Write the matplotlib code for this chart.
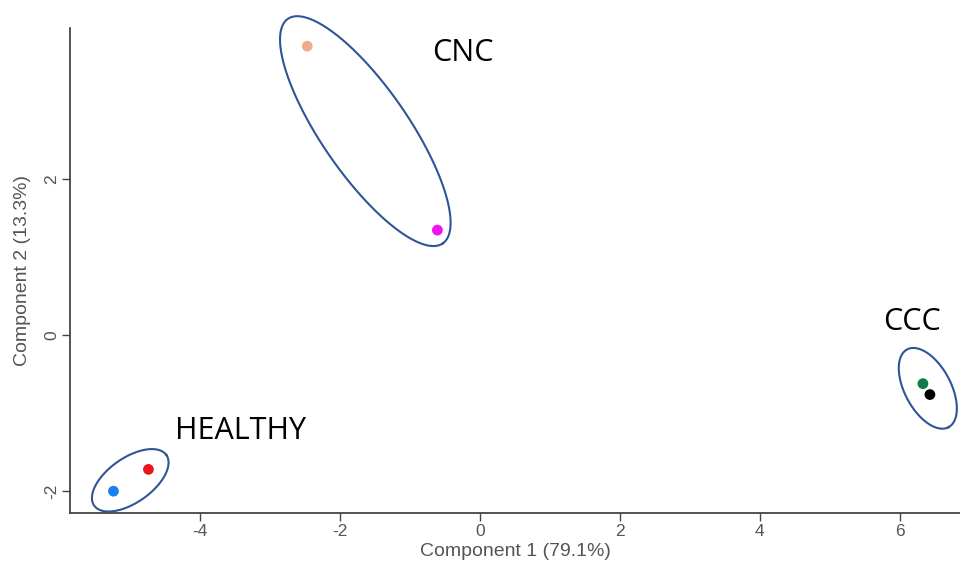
import numpy as np
import matplotlib
matplotlib.use("Agg")
import matplotlib.pyplot as plt

plt.rcParams["axes.unicode_minus"] = False

# PCA scores
comp1 = [-5.24, -4.74, -2.47, -0.61, 6.33, 6.43]
comp2 = [-2.00, -1.72, 3.71, 1.35, -0.62, -0.76]
colors = ["#1a7ff0", "#e8161b", "#f2aa88", "#f012f0", "#0f7a4a", "#000000"]

# group outlines: centre (data), semi axes (x units), angle (deg, visual)
groups = ["HEALTHY", "CNC", "CCC"]
ell_cx = [-5.0, -1.64, 6.40]
ell_cy = [-1.86, 2.62, -0.68]
ell_a = [0.63, 1.95, 0.63]
ell_b = [0.32, 0.62, 0.33]
ell_ang = [35, -55.4, -62]
label_x = [-4.36, -0.24, 6.17]
label_y = [-1.23, 3.62, 0.17]
label_ha = ["left", "center", "center"]

fig = plt.figure(figsize=(9.6, 5.65), dpi=100)
ax = fig.add_axes([0.073, 0.092, 0.927, 0.858])
ax.set_xlim(-5.86, 6.86)
ax.set_ylim(-2.28, 3.94)

# ratio of px per y unit to px per x unit, so outlines look like true ellipses
r = (78.0 / 70.0)
t = np.linspace(0, 2 * np.pi, 200)
for i in range(len(groups)):
    th = np.deg2rad(ell_ang[i])
    ex = ell_cx[i] + ell_a[i] * np.cos(t) * np.cos(th) - ell_b[i] * np.sin(t) * np.sin(th)
    ey = ell_cy[i] + (ell_a[i] * np.cos(t) * np.sin(th) + ell_b[i] * np.sin(t) * np.cos(th)) / r
    ax.plot(ex, ey, color="#2f5597", lw=1.5, clip_on=False, zorder=2)
    ax.text(label_x[i], label_y[i], groups[i], ha=label_ha[i], va="center",
            fontsize=22, family=["Open Sans", "DejaVu Sans"], color="black")

ax.scatter(comp1, comp2, c=colors, s=60, edgecolors="none", zorder=3, clip_on=False)

for s in ["top", "right"]:
    ax.spines[s].set_visible(False)
for s in ["left", "bottom"]:
    ax.spines[s].set_color("#444444")
    ax.spines[s].set_linewidth(1.3)

ax.set_xticks([-4, -2, 0, 2, 4, 6])
ax.set_yticks([-2, 0, 2])
lab_font = ["Liberation Sans", "DejaVu Sans"]
ax.tick_params(direction="out", length=6, width=1, color="#444444",
               labelcolor="#555555", labelsize=12.5, pad=2)
for lbl in ax.get_xticklabels() + ax.get_yticklabels():
    lbl.set_family(lab_font)
for lbl in ax.get_yticklabels():
    lbl.set_rotation(90)
    lbl.set_va("center")
ax.set_xlabel("Component 1 (79.1%)", fontsize=14, color="#555555",
              family=lab_font, labelpad=3)
ax.set_ylabel("Component 2 (13.3%)", fontsize=14, color="#555555",
              family=lab_font, labelpad=9)

fig.savefig("out.png", dpi=100)
